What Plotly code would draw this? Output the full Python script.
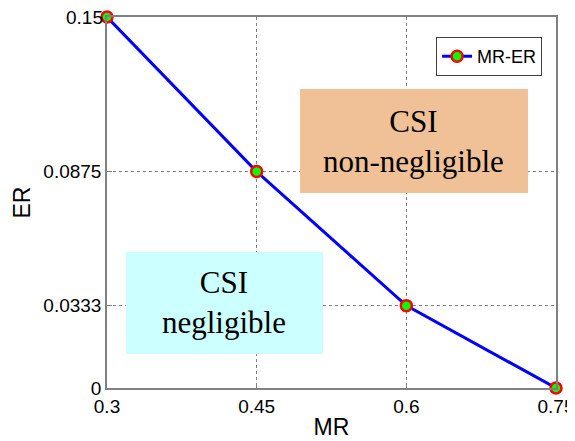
import plotly.graph_objects as go

MR = [0.3, 0.45, 0.6, 0.75]
ER = [0.15, 0.0875, 0.0333, 0.0]
x_ticks = [0.3, 0.45, 0.6, 0.75]
y_ticks = [0, 0.0333, 0.0875, 0.15]
y_tick_labels = ["0", "0.0333", "0.0875", "0.15"]
series_name = "MR-ER"
region_labels = ["CSI<br>non-negligible", "CSI<br>negligible"]

fig = go.Figure()

# region boxes
fig.add_shape(type="rect", xref="x", yref="y", x0=0.4934, x1=0.7219, y0=0.0788, y1=0.1209,
              fillcolor="#F0C096", line=dict(width=0), layer="above")
fig.add_shape(type="rect", xref="x", yref="y", x0=0.3190, x1=0.5165, y0=0.01375, y1=0.0550,
              fillcolor="#CCFFFF", line=dict(width=0), layer="above")
fig.add_annotation(x=(0.4934 + 0.7219) / 2, y=(0.0788 + 0.1209) / 2, xref="x", yref="y",
                   text=region_labels[0], showarrow=False,
                   font=dict(family="Liberation Serif", size=31, color="black"))
fig.add_annotation(x=(0.3190 + 0.5165) / 2, y=(0.01375 + 0.0550) / 2, xref="x", yref="y",
                   text=region_labels[1], showarrow=False,
                   font=dict(family="Liberation Serif", size=31, color="black"))

# top y tick label (plotly hides it at the figure edge), drawn as text at the same value
fig.add_annotation(x=0, xref="paper", y=y_ticks[-1], yref="y", text=y_tick_labels[-1],
                   showarrow=False, xanchor="right", yanchor="middle", xshift=-2,
                   font=dict(family="Liberation Sans", size=19, color="black"))

fig.add_trace(go.Scatter(
    x=MR, y=ER, mode="lines+markers", name=series_name,
    line=dict(color="#0000FF", width=3),
    marker=dict(size=11, color="#00FF00", line=dict(color="#FF0000", width=2.5)),
    cliponaxis=False,
))

axis_common = dict(
    showgrid=True, gridcolor="#808080", griddash="dot", gridwidth=1,
    showline=True, linecolor="#808080", linewidth=1.5, mirror=True,
    ticks="inside", ticklen=5, tickcolor="#808080",
    zeroline=False, automargin=False,
    tickfont=dict(family="Liberation Sans", size=19, color="black"),
)

fig.update_xaxes(range=[0.3, 0.75], tickvals=x_ticks, ticktext=[str(v) for v in x_ticks],
                 title=dict(text="MR", font=dict(family="Liberation Sans", size=23, color="black"), standoff=3),
                 **axis_common)
fig.update_yaxes(range=[0, 0.15], tickvals=y_ticks, ticktext=y_tick_labels,
                 title=dict(text="ER", font=dict(family="Liberation Sans", size=23, color="black"), standoff=6),
                 **axis_common)

# page body has an 8px margin, so the figure is sized to fit the 575x441 window
fig.update_layout(
    width=567, height=433,
    margin=dict(l=99, r=19, t=9, b=53, autoexpand=False),
    plot_bgcolor="white", paper_bgcolor="white",
    showlegend=True,
    legend=dict(x=0.969, y=0.946, xanchor="right", yanchor="top",
                bgcolor="white", bordercolor="#404040", borderwidth=1,
                font=dict(family="Liberation Sans", size=18, color="black"),
                itemwidth=30),
)

fig.write_html("out.html")
